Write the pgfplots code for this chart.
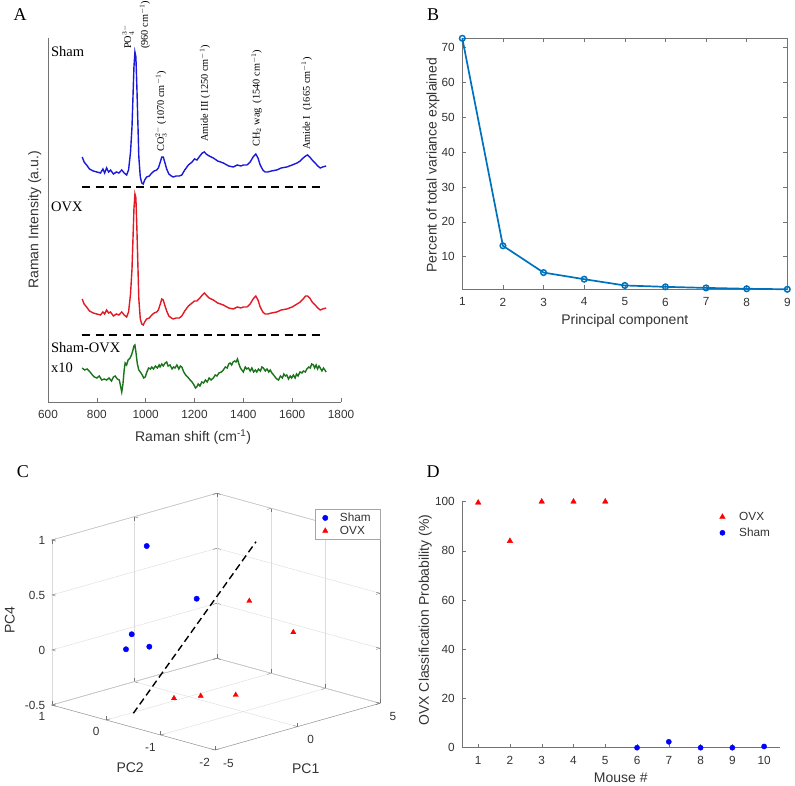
\documentclass[border=0pt]{standalone}
\usepackage{fontspec}
\setmainfont{Liberation Serif}
\setsansfont{Liberation Sans}
\usepackage{pgfplots}
\pgfplotsset{compat=1.18}

\definecolor{mblue}{RGB}{0,114,189}
\definecolor{sblue}{RGB}{25,25,215}
\definecolor{sred}{RGB}{225,25,35}
\definecolor{sgreen}{RGB}{25,115,25}

\pgfplotsset{
  mstyle/.style={
    tick label style={font=\fontsize{11.8}{12}\sffamily, text=black!80},
    xticklabel style={yshift=-5pt},
    yticklabel style={xshift=-4pt},
    label style={font=\fontsize{14}{15}\sffamily, text=black!80},
    /pgf/number format/assume math mode=true,
    /pgf/number format/1000 sep={},
    tick align=inside,
    major tick length=4pt,
    axis line style={black!55},
    every tick/.style={black!55},
  }
}

\pgfplotstableread{
w h
740 245
748 240
758 237
770 233
785 231
800 230
815 229
825 233
832 229
840 234
848 230
856 232
868 228
880 230
890 229
902 232
912 229
922 227
930 232
938 250
944 275
948 305
952 335
956 350
960 345
964 315
968 280
972 245
978 225
984 219
990 218
996 222
1004 225
1015 226
1025 229
1035 231
1045 232
1052 234
1060 240
1066 245
1072 245
1078 240
1086 233
1095 228
1105 226
1113 225
1125 226
1138 226
1148 227
1160 232
1175 237
1190 240
1200 243
1210 242
1222 246
1232 249
1240 250
1248 248
1260 246
1277 244
1295 241
1318 239
1340 236
1359 235
1375 237
1390 236
1400 237
1415 237
1428 240
1440 245
1451 248
1460 244
1469 237
1480 232
1489 230
1500 230
1515 231
1537 232
1555 234
1578 235
1600 237
1620 239
1633 241
1645 244
1655 246
1663 247
1672 245
1682 242
1694 239
1705 236
1715 234
1725 235
1739 236
}\sham

\pgfplotstableread{
w h
740 103
748 98
758 95
770 91
785 89
800 88
815 87
825 90
832 88
840 92
848 89
856 90
868 86
880 88
890 87
902 90
912 87
922 85
930 90
938 108
944 133
948 163
952 193
956 208
960 204
964 174
968 138
972 103
978 83
984 78
990 77
996 80
1004 83
1015 84
1025 87
1035 89
1045 90
1052 92
1060 98
1066 103
1072 102
1078 97
1086 91
1095 86
1105 84
1113 83
1125 84
1138 84
1148 86
1160 91
1175 96
1190 99
1200 101
1210 101
1222 104
1232 107
1240 109
1248 107
1260 104
1277 102
1295 99
1318 97
1340 94
1359 93
1375 95
1390 94
1400 95
1415 95
1428 98
1440 103
1451 106
1460 102
1469 95
1480 90
1489 88
1500 88
1515 89
1537 90
1555 92
1578 93
1600 95
1620 98
1633 100
1645 103
1655 106
1663 106
1672 104
1682 100
1694 97
1705 94
1715 92
1725 93
1739 94
}\ovx

\pgfplotstableread{
w h
740 34
750 32
760 33
772 30
782 27
790 25
800 24
810 26
820 22
830 23
840 22
850 24
860 21
868 25
875 26
884 23
892 22
897 16
902 10
907 18
912 32
916 39
922 37
928 42
936 44
942 47
948 52
952 56
956 57
960 50
966 38
972 32
978 30
986 27
992 24
998 25
1005 30
1012 34
1020 33
1025 35
1032 33
1040 36
1048 34
1055 37
1059 35
1066 38
1072 36
1080 39
1086 40
1092 36
1100 37
1108 33
1114 35
1120 34
1128 37
1136 33
1142 36
1148 35
1156 30
1164 27
1172 25
1182 22
1190 20
1198 17
1204 14
1209 15
1215 18
1222 16
1230 20
1237 19
1245 22
1252 20
1260 24
1268 22
1277 24
1285 27
1292 26
1300 29
1310 30
1318 32
1326 35
1334 34
1340 38
1346 39
1352 37
1358 40
1364 41
1370 40
1376 43
1382 38
1388 34
1394 32
1400 30
1408 35
1414 33
1421 34
1428 31
1435 34
1442 30
1449 32
1455 30
1462 33
1470 31
1476 35
1482 34
1490 31
1497 33
1504 30
1510 32
1517 29
1524 27
1530 25
1537 23
1544 22
1552 26
1560 24
1566 28
1572 26
1578 27
1585 23
1592 26
1598 24
1605 27
1612 24
1618 28
1624 26
1632 30
1640 29
1646 31
1654 30
1660 33
1668 35
1674 34
1680 38
1687 37
1692 34
1698 37
1704 33
1710 36
1715 34
1722 31
1728 34
1734 32
1739 30
}\diff

\begin{document}
\begin{tikzpicture}
\useasboundingbox (0,0) rectangle (795pt,786pt);

% Panel letters
\node[font=\fontsize{18}{19}\selectfont] at (20pt,771pt) {A};
\node[font=\fontsize{18}{19}\selectfont] at (433pt,771pt) {B};
\node[font=\fontsize{18}{19}\selectfont] at (23pt,314pt) {C};
\node[font=\fontsize{18}{19}\selectfont] at (433pt,314pt) {D};

% ---------- A: Raman spectra ----------
\begin{axis}[mstyle,
  at={(48pt,384pt)}, anchor=south west,
  scale only axis, width=293pt, height=364pt,
  xmin=600, xmax=1800, ymin=0, ymax=364,
  axis x line*=bottom, axis y line*=left,
  xtick={600,800,...,1800}, ytick=\empty,
  xlabel={Raman shift (cm\textsuperscript{-1})},
  ylabel={Raman Intensity (a.u.)},
  xlabel style={at={(axis description cs:0.495,-0.096)}, anchor=center},
  ylabel style={at={(axis description cs:-0.045,0.5)}, anchor=center},
  clip=false,
]
\addplot[sblue, line width=1.4pt] table[x=w, y=h] {\sham};
\addplot[sred, line width=1.4pt] table[x=w, y=h] {\ovx};
\addplot[sgreen, line width=1.4pt] table[x=w, y=h] {\diff};
\addplot[black, line width=1.6pt, dash pattern=on 8pt off 5.5pt] coordinates {(740,215) (1725,215)};
\addplot[black, line width=1.6pt, dash pattern=on 8pt off 5.5pt] coordinates {(740,67) (1725,67)};

\node[anchor=west, inner sep=0pt, font=\fontsize{14.5}{15}\selectfont] at (axis cs:612,350) {Sham};
\node[anchor=west, inner sep=0pt, font=\fontsize{14.5}{15}\selectfont] at (axis cs:612,195) {OVX};
\node[anchor=west, inner sep=0pt, font=\fontsize{14.5}{15}\selectfont] at (axis cs:612,54) {Sham-OVX};
\node[anchor=west, inner sep=0pt, font=\fontsize{14.5}{15}\selectfont] at (axis cs:612,34) {x10};

\begin{scope}[every node/.style={rotate=90, anchor=west, inner sep=1pt, font=\fontsize{10.3}{11}\selectfont}]
\node at (axis cs:928,352) {PO$_4^{3-}$};
\node at (axis cs:997,352) {(960 cm$^{-1}$)};
\node at (axis cs:1063,249) {CO$_3^{2-}$ (1070 cm$^{-1}$)};
\node at (axis cs:1243,259) {Amide III (1250 cm$^{-1}$)};
\node at (axis cs:1455,254) {CH$_2$ wag\ \ (1540 cm$^{-1}$)};
\node at (axis cs:1660,251) {Amide I\ \ (1665 cm$^{-1}$)};
\end{scope}
\end{axis}

% ---------- B: scree plot ----------
\begin{axis}[mstyle,
  at={(462.3pt,496.7pt)}, anchor=south west,
  scale only axis, width=325pt, height=251pt,
  xmin=1, xmax=9, ymin=0.6, ymax=72.7,
  xtick={1,...,9}, ytick={10,20,...,70},
  xlabel={Principal component},
  ylabel={Percent of total variance explained},
  xlabel style={at={(axis description cs:0.5,-0.126)}, anchor=center},
  ylabel style={at={(axis description cs:-0.09,0.495)}, anchor=center},
  clip=false,
]
\addplot[mblue, line width=1.7pt, mark=o, mark size=2.8pt, mark options={line width=1.5pt}]
  coordinates {(1,72.7) (2,13.1) (3,5.4) (4,3.5) (5,1.7) (6,1.3) (7,1.0) (8,0.75) (9,0.6)};
\end{axis}

% ---------- C: 3-D PCA scores ----------
\begin{axis}[mstyle,
  xticklabel style={yshift=0pt, xshift=7pt}, yticklabel style={xshift=0pt, yshift=-4pt},
  at={(188.7pt,144.35pt)}, anchor=origin,
  x={(16.5pt,4.67pt)}, y={(-54.4pt,15pt)}, z={(0pt,110pt)},
  xmin=-5, xmax=5, ymin=-2, ymax=1, zmin=-0.5, zmax=1,
  xtick={-5,0,5}, ytick={-2,-1,0,1}, ztick={-0.5,0,0.5,1},
  zticklabel style={xshift=-3pt},
  grid=major, grid style={black!14},
  axis line style={black!45},
  xlabel={PC1}, ylabel={PC2}, zlabel={PC4},
  xlabel style={at={(axis cs:0.5,-2,-0.5)}, anchor=center, yshift=-44pt},
  ylabel style={at={(axis cs:-5,-0.44,-0.5)}, anchor=center, yshift=-41pt},
  zlabel style={at={(axis cs:-5,1,0.27)}, anchor=center, yshift=42pt},
  legend style={at={(axis description cs:1,0.94)}, anchor=north east,
    draw=black!35, font=\fontsize{11.8}{12}\sffamily, text=black!80,
    row sep=-1pt, inner xsep=7pt, inner ysep=2pt,
    /tikz/every odd column/.append style={column sep=10pt}},
  legend cell align=left,
  clip=false,
]
\addplot3[only marks, mark=*, blue, mark size=2.7pt]
  coordinates {(0,0.772,0.764) (-1,-0.45,0.494) (-2,0.441,0.092) (-3,0.243,0.025) (-2.5,-0.034,0.065)};
\addlegendentry{Sham}
\addplot3[only marks, mark=triangle*, red, mark size=3pt]
  coordinates {(3,-0.204,0.27) (4,-0.71,0.012) (-1,-0.033,-0.468) (0,-0.221,-0.464) (1,-0.561,-0.451)};
\addlegendentry{OVX}
\addplot3[black, line width=1.4pt, dash pattern=on 7pt off 4pt, forget plot]
  coordinates {(-4.5,-0.347,-0.413) (2,-0.631,0.91)};
\end{axis}

% ---------- D: classification probability ----------
\begin{axis}[mstyle,
  at={(462.3pt,38.3pt)}, anchor=south west,
  scale only axis, width=317.7pt, height=246pt,
  xmin=0.5, xmax=10.5, ymin=0, ymax=100,
  axis x line*=bottom, axis y line*=left,
  xtick={1,...,10}, ytick={0,20,...,100},
  xlabel={Mouse \#},
  ylabel={OVX Classification Probability (\%)},
  xlabel style={at={(axis description cs:0.4986,-0.124)}, anchor=center},
  ylabel style={at={(axis description cs:-0.117,0.519)}, anchor=center},
  legend style={at={(axis description cs:0.80,0.975)}, anchor=north west,
    draw=none, fill=none, font=\fontsize{11.8}{12}\sffamily, text=black!80, row sep=2pt,
    /tikz/every odd column/.append style={column sep=12pt}},
  legend cell align=left,
  clip=false,
]
\addplot[only marks, mark=triangle*, red, mark size=3.2pt]
  coordinates {(1,99.6) (2,84) (3,100) (4,100) (5,100)};
\addlegendentry{OVX}
\addplot[only marks, mark=*, blue, mark size=2.6pt]
  coordinates {(6,0) (7,2.4) (8,0) (9,0) (10,0.5)};
\addlegendentry{Sham}
\end{axis}
\end{tikzpicture}
\end{document}
